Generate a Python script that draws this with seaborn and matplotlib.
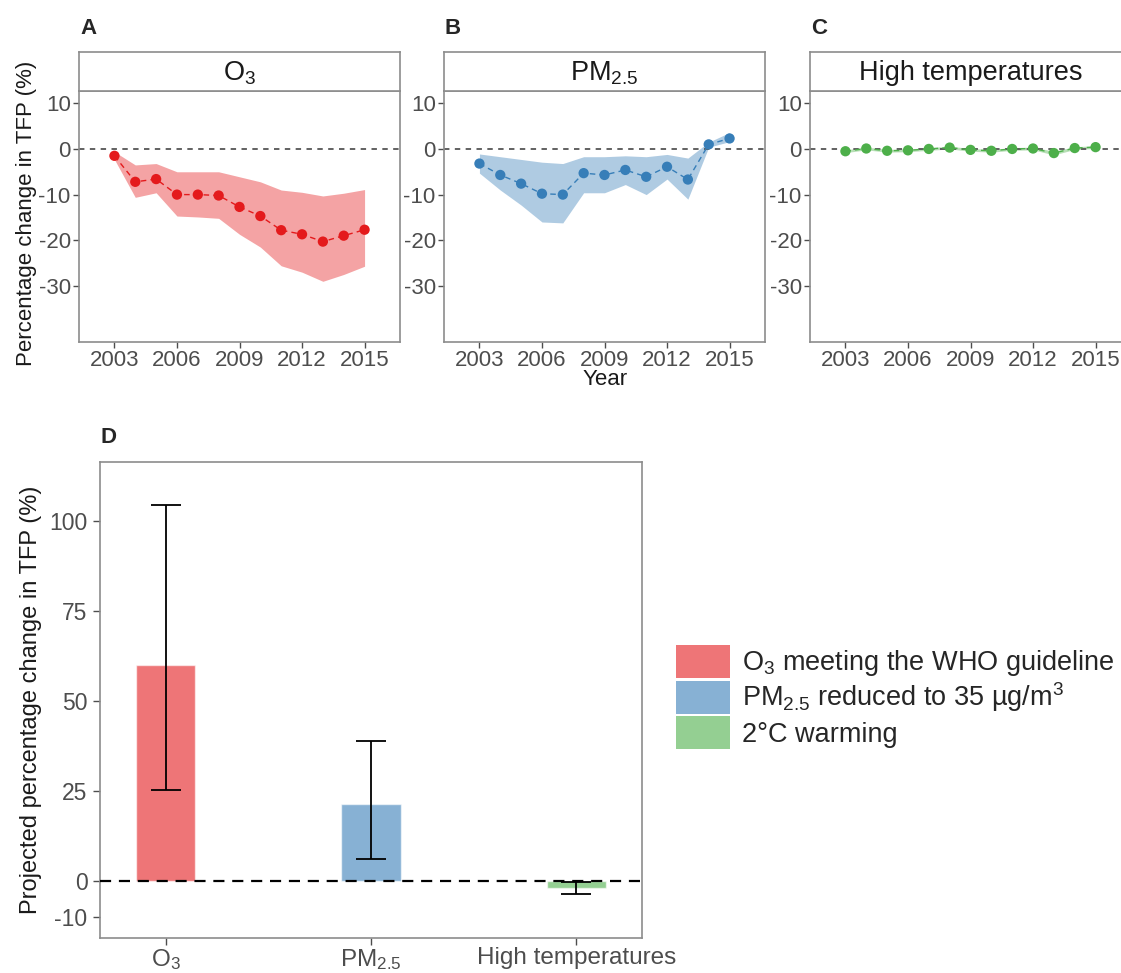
import matplotlib
matplotlib.use("Agg")
import matplotlib.pyplot as plt
import seaborn as sns
import pandas as pd
from matplotlib.patches import Patch

# Data
years = list(range(2003, 2016))

o3_mean = [-1.5, -7.2, -6.6, -10.0, -10.0, -10.2, -12.7, -14.7, -17.8, -18.7, -20.3, -19.0, -17.7]
o3_upper = [-0.6, -3.5, -3.2, -5.0, -5.0, -5.0, -6.1, -7.2, -9.0, -9.5, -10.3, -9.7, -8.9]
o3_lower = [-2.3, -10.6, -9.6, -14.7, -14.9, -15.2, -18.7, -21.5, -25.6, -27.0, -29.0, -27.5, -25.7]

pm_mean = [-3.2, -5.7, -7.6, -9.8, -10.0, -5.3, -5.7, -4.6, -6.1, -3.9, -6.7, 1.0, 2.3]
pm_upper = [-1.1, -1.7, -2.3, -2.9, -3.2, -1.7, -1.7, -1.5, -1.7, -1.2, -2.0, 1.5, 3.6]
pm_lower = [-5.3, -9.0, -12.3, -16.0, -16.2, -9.6, -9.6, -7.8, -10.0, -6.6, -11.0, 0.4, 1.6]

ht_mean = [-0.5, 0.1, -0.4, -0.3, 0.0, 0.3, -0.2, -0.4, 0.0, 0.1, -0.9, 0.2, 0.4]
ht_upper = [-0.2, 0.4, -0.1, 0.0, 0.3, 0.6, 0.1, -0.1, 0.3, 0.4, -0.5, 0.5, 0.7]
ht_lower = [-0.8, -0.2, -0.7, -0.6, -0.3, 0.0, -0.5, -0.7, -0.3, -0.2, -1.3, -0.1, 0.1]

scenarios = ["O$_3$", "PM$_{2.5}$", "High temperatures"]
bar_values = [60.0, 21.4, -1.9]
err_low = [25.1, 6.0, -3.7]
err_high = [104.3, 38.7, -0.4]
legend_labels = ["O$_3$ meeting the WHO guideline",
                 "PM$_{2.5}$ reduced to 35 µg/m$^3$",
                 "2°C warming"]

colors = ["#E41A1C", "#377EB8", "#4DAF4A"]

sns.set_theme(style="white")
plt.rcParams["font.family"] = ["Liberation Sans", "DejaVu Sans"]
plt.rcParams["mathtext.fontset"] = "custom"
plt.rcParams["mathtext.rm"] = "Liberation Sans"
plt.rcParams["mathtext.default"] = "regular"
plt.rcParams["axes.unicode_minus"] = False

W, H = 1121, 973
fig = plt.figure(figsize=(W / 100, H / 100), dpi=100)

border = "#8C8C8C"
tickcol = "#4D4D4D"


def px_axes(left, top, right, bottom):
    return fig.add_axes([left / W, (H - bottom) / H, (right - left) / W, (bottom - top) / H])


def style_frame(ax):
    for s in ax.spines.values():
        s.set_color(border)
        s.set_linewidth(1.2)


panels = [
    ("A", "O$_3$", 79, o3_mean, o3_lower, o3_upper, colors[0]),
    ("B", "PM$_{2.5}$", 444, pm_mean, pm_lower, pm_upper, colors[1]),
    ("C", "High temperatures", 810, ht_mean, ht_lower, ht_upper, colors[2]),
]

for letter, title, left, mean, lower, upper, col in panels:
    ax = px_axes(left, 91, left + 321, 342)
    df = pd.DataFrame({"year": years, "mean": mean})
    ax.fill_between(years, lower, upper, color=col, alpha=0.4, linewidth=0)
    ax.axhline(0, color="#555555", lw=1.3, dashes=(3, 3), zorder=1)
    sns.lineplot(data=df, x="year", y="mean", ax=ax, color=col, lw=1.0,
                 dashes=False, linestyle=(0, (4, 3)))
    sns.scatterplot(data=df, x="year", y="mean", ax=ax, color=col, s=55,
                    edgecolor="none", zorder=3)
    ax.set_xlim(2001.3, 2016.7)
    ax.set_ylim(-42.3, 12.7)
    ax.set_xticks([2003, 2006, 2009, 2012, 2015])
    ax.set_yticks([10, 0, -10, -20, -30])
    ax.tick_params(labelsize=16, colors=tickcol, length=4, width=1, pad=2,
                   direction="out", left=True, bottom=True)
    ax.set_xlabel("")
    ax.set_ylabel("")
    style_frame(ax)

    strip = px_axes(left, 52, left + 321, 91)
    strip.set_xticks([])
    strip.set_yticks([])
    style_frame(strip)
    strip.text(0.5, 0.45, title, ha="center", va="center", fontsize=19.5,
               color="#1A1A1A", transform=strip.transAxes)

    fig.text((left + 1) / W, 1 - 28 / H, letter, fontsize=16, fontweight="bold",
             ha="left", va="center")

fig.text(27 / W, 1 - 213 / H, "Percentage change in TFP (%)", rotation=90,
         ha="center", va="center", fontsize=16, color="#1A1A1A")
fig.text(605 / W, 1 - 380 / H, "Year", ha="center", va="center", fontsize=16,
         color="#1A1A1A")

# Panel D: projected changes
axd = px_axes(100, 461.7, 642, 938.3)
dfd = pd.DataFrame({"scenario": scenarios, "value": bar_values})
sns.barplot(data=dfd, x="scenario", y="value", hue="scenario", palette=colors,
            alpha=0.6, width=0.29, legend=False, ax=axd, saturation=1)
xs = list(range(len(scenarios)))
yerr = [[v - lo for v, lo in zip(bar_values, err_low)],
        [hi - v for v, hi in zip(bar_values, err_high)]]
axd.errorbar(xs, bar_values, yerr=yerr, fmt="none", ecolor="black",
             elinewidth=1.3, capsize=11, capthick=1.3, zorder=4)
axd.axhline(0, color="black", lw=1.6, dashes=(5, 3.5), zorder=3)
axd.set_xlim(-0.32, 2.32)
axd.set_ylim(-16.0, 116.4)
axd.set_yticks([-10, 0, 25, 50, 75, 100])
axd.set_xlabel("")
axd.set_ylabel("")
axd.tick_params(axis="y", labelsize=16.5, colors=tickcol, length=5, width=1,
                pad=4, left=True)
axd.tick_params(axis="x", labelsize=17.5, colors=tickcol, length=5, width=1,
                pad=1, bottom=True)
style_frame(axd)
fig.text(31 / W, 1 - 700 / H, "Projected percentage change in TFP (%)",
         rotation=90, ha="center", va="center", fontsize=17, color="#1A1A1A")
fig.text(100 / W, 1 - 437 / H, "D", fontsize=16, fontweight="bold",
         ha="left", va="center")

handles = [Patch(facecolor=c, alpha=0.6, edgecolor="none") for c in colors]
fig.legend(handles, legend_labels, loc="upper left",
           bbox_to_anchor=(665 / W, 1 - 634 / H), frameon=False, fontsize=19.5,
           handlelength=2.0, handleheight=1.5, handletextpad=0.45,
           labelspacing=0.08, borderaxespad=0)

fig.savefig("out.png", dpi=100)
